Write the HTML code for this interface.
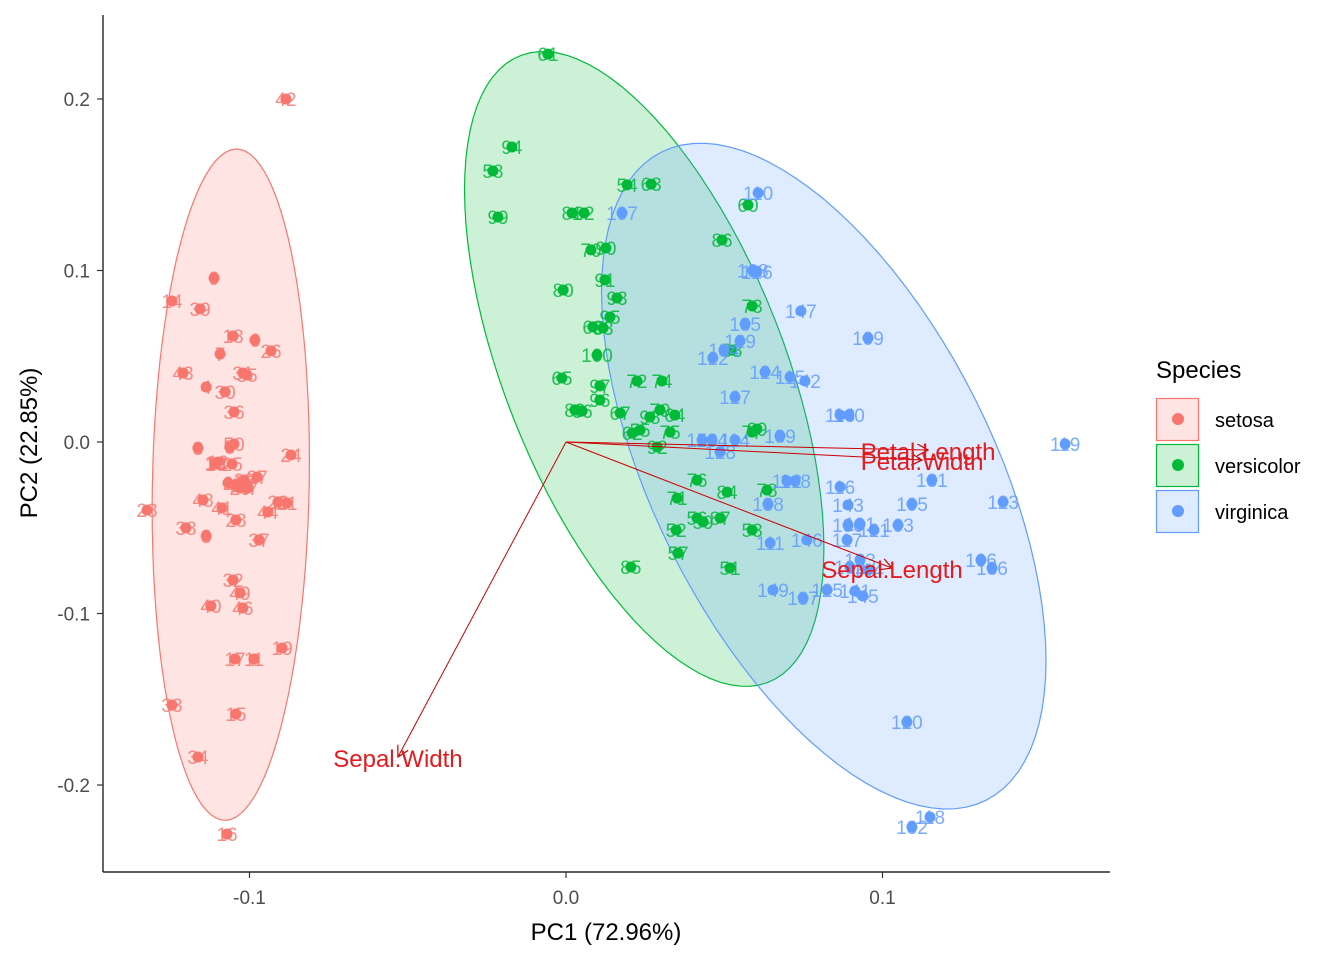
<!DOCTYPE html>
<html><head><meta charset="utf-8"><style>
body{margin:0;background:#fff;}
svg text{font-family:"Liberation Sans",Arial,sans-serif;}
</style></head><body>
<svg id="chart" width="1344" height="960" viewBox="0 0 1344 960" xmlns="http://www.w3.org/2000/svg">
<defs>
<marker id="ah" viewBox="0 0 12 12" refX="11" refY="6" markerWidth="12" markerHeight="12" markerUnits="userSpaceOnUse" orient="auto">
<polyline points="0,0 11,6 0,12" fill="none" stroke="#CC0000" stroke-width="1.2"/>
</marker>
</defs>
<g id="ellipses"></g><g id="pts"></g><g id="arrows"></g>
<line x1="103" y1="15" x2="103" y2="872" stroke="#000" stroke-width="1.2"/>
<line x1="103" y1="872" x2="1110" y2="872" stroke="#000" stroke-width="1.2"/>
<g id="axes"></g>
<text x="606" y="940" font-size="24" text-anchor="middle">PC1 (72.96%)</text>
<text transform="translate(37,443) rotate(-90)" font-size="24" text-anchor="middle">PC2 (22.85%)</text>
<g>
<text x="1156" y="378" font-size="24">Species</text>
<g id="legend"></g>
</g>
</svg>
<script>
const setosa=[[-0.0885,0.200,42],[-0.1112,0.0956,9],[-0.1245,0.0822,14],[-0.1156,0.0776,39],[-0.1210,0.0402,43],[-0.1052,0.0618,18],[-0.0983,0.0595,6],[-0.0932,0.0531,26],[-0.1093,0.0513,7],[-0.1137,0.0321,4],[-0.1077,0.0292,30],[-0.1021,0.0402,31],[-0.1008,0.0391,35],[-0.1049,0.0175,36],[-0.1049,-0.0012,50],[-0.0869,-0.0076,24],[-0.1163,-0.0035,8],[-0.1100,-0.0117,12],[-0.1055,-0.0128,25],[-0.0976,-0.0204,27],[-0.1030,-0.0268,20],[-0.1324,-0.0397,23],[-0.0882,-0.0356,21],[-0.0910,-0.0350,22],[-0.0942,-0.0408,44],[-0.1087,-0.0385,41],[-0.1043,-0.0455,28],[-0.1201,-0.0501,38],[-0.1137,-0.0548,3],[-0.0970,-0.0571,37],[-0.1052,-0.0805,32],[-0.1030,-0.0880,49],[-0.1122,-0.0956,40],[-0.1021,-0.0968,46],[-0.0897,-0.1201,19],[-0.1046,-0.1265,17],[-0.0986,-0.1265,11],[-0.1245,-0.1534,33],[-0.1043,-0.1586,15],[-0.1163,-0.1837,34],[-0.1071,-0.2286,16],[-0.1046,-0.0251,1],[-0.1062,-0.0029,5],[-0.1109,-0.0122,10],[-0.1106,-0.0128,13],[-0.1068,-0.0239,2],[-0.1024,-0.0233,45],[-0.1005,-0.0268,47],[-0.1147,-0.0338,48],[-0.1017,-0.0222,29]];
const versicolor=[[-0.0057,0.2262,61],[-0.0171,0.1720,94],[-0.0231,0.1580,58],[-0.0215,0.1312,99],[0.0193,0.1499,54],[0.0269,0.1504,63],[0.0019,0.1335,81],[0.0057,0.1335,82],[0.0079,0.1120,70],[0.0126,0.1131,90],[0.0123,0.0945,91],[-0.0009,0.0886,80],[0.0161,0.0840,93],[0.0085,0.0671,68],[0.0117,0.0665,83],[0.0139,0.0729,95],[0.0098,0.0507,100],[-0.0013,0.0373,65],[0.0107,0.0327,97],[0.0224,0.0356,72],[0.0303,0.0356,74],[0.0028,0.0187,89],[0.0107,0.0245,96],[0.0171,0.0169,67],[0.0234,0.0070,55],[0.0209,0.0052,62],[0.0297,0.0187,79],[0.0344,0.0157,64],[0.0288,-0.0029,92],[0.0329,0.0058,75],[0.0265,0.0146,98],[0.0051,0.0181,66],[0.0603,0.0076,69],[0.0414,-0.0222,76],[0.0351,-0.0327,71],[0.0354,-0.0647,57],[0.0348,-0.0513,52],[0.0509,-0.0292,84],[0.0414,-0.0443,56],[0.0487,-0.0443,87],[0.0588,-0.0513,53],[0.0518,-0.0735,51],[0.0205,-0.0729,85],[0.0493,0.1178,86],[0.0588,0.0793,73],[0.0588,0.0058,77],[0.0635,-0.0280,78],[0.0433,-0.0466,59],[0.0575,0.1382,60],[0.0524,0.0536,88]];
const virginica=[[0.0607,0.1452,110],[0.0177,0.1335,107],[0.0603,0.0991,126],[0.0742,0.0764,147],[0.0954,0.0606,109],[0.0566,0.0688,135],[0.0550,0.0589,129],[0.0464,0.0490,122],[0.0499,0.0536,134],[0.0629,0.0408,124],[0.0755,0.0356,142],[0.0708,0.0379,115],[0.0534,0.0262,127],[0.0866,0.0157,113],[0.0894,0.0157,140],[0.0461,0.0012,104],[0.0430,0.0012,150],[0.0487,-0.0058,128],[0.0676,0.0035,139],[0.1577,-0.0012,119],[0.1156,-0.0222,131],[0.0866,-0.0262,116],[0.0724,-0.0227,148],[0.0698,-0.0227,112],[0.0638,-0.0362,138],[0.0891,-0.0367,143],[0.1093,-0.0362,105],[0.1381,-0.0350,123],[0.0929,-0.0478,101],[0.1049,-0.0484,103],[0.0891,-0.0484,130],[0.0645,-0.0589,111],[0.0761,-0.0571,146],[0.0888,-0.0571,117],[0.0973,-0.0513,121],[0.1311,-0.0688,106],[0.1346,-0.0735,136],[0.0897,-0.0729,102],[0.0954,-0.0746,144],[0.0654,-0.0863,149],[0.0749,-0.0910,137],[0.0825,-0.0863,125],[0.0938,-0.0898,145],[0.0913,-0.0869,141],[0.0929,-0.0688,133],[0.0534,0.0012,114],[0.1093,-0.2245,132],[0.1150,-0.2187,118],[0.1077,-0.1633,120],[0.0590,0.1000,108]];
const varNames=["Petal.Length","Petal.Width","Sepal.Length","Sepal.Width"];
const varX=[0.1144,0.1125,0.1030,-0.0531];
const varY=[-0.0047,-0.0105,-0.0735,-0.1837];
const xTicks=[-0.1,0.0,0.1];
const xTickLabels=["-0.1","0.0","0.1"];
const yTicks=[0.2,0.1,0.0,-0.1,-0.2];
const yTickLabels=["0.2","0.1","0.0","-0.1","-0.2"];
const speciesNames=["setosa","versicolor","virginica"];
const speciesColors=["#F8766D","#00BA38","#619CFF"];

const NS="http://www.w3.org/2000/svg";
const sx=x=>566+x*3165, sy=y=>442-y*1715;
function mk(tag,attrs,parent,txt){const e=document.createElementNS(NS,tag);for(const k in attrs)e.setAttribute(k,attrs[k]);if(txt!==undefined)e.textContent=txt;parent.appendChild(e);return e;}
const axes=document.getElementById('axes');
xTicks.forEach((t,i)=>{
  const l=mk('line',{x1:sx(t),x2:sx(t),y1:872,y2:878,stroke:'#333','stroke-width':1.2},axes);
  
  
  const tx=mk('text',{x:sx(t),y:904,'font-size':19,'text-anchor':'middle',fill:'#4D4D4D'},axes,xTickLabels[i]);
  
  
});
yTicks.forEach((t,i)=>{
  const l=mk('line',{x1:97,x2:103,y1:sy(t),y2:sy(t),stroke:'#333','stroke-width':1.2},axes);
  
  
  const tx=mk('text',{x:90,y:sy(t)+7,'font-size':19,'text-anchor':'end',fill:'#4D4D4D'},axes,yTickLabels[i]);
  
  
});
const groups=[setosa,versicolor,virginica];
const eg=document.getElementById('ellipses'), pg=document.getElementById('pts');
const r=2.55;
groups.forEach((g,gi)=>{
  const P=g.map(d=>[sx(d[0]),sy(d[1])]);
  const n=P.length;
  const mx=P.reduce((a,p)=>a+p[0],0)/n, my=P.reduce((a,p)=>a+p[1],0)/n;
  let sxx=0,syy=0,sxy=0;
  P.forEach(p=>{sxx+=(p[0]-mx)**2;syy+=(p[1]-my)**2;sxy+=(p[0]-mx)*(p[1]-my);});
  sxx/=n-1;syy/=n-1;sxy/=n-1;
  const a=Math.sqrt(sxx), b=sxy/a, c=Math.sqrt(Math.max(syy-b*b,0));
  let d='';
  for(let k=0;k<=100;k++){const t=k/100*2*Math.PI;const u=Math.cos(t)*r,v=Math.sin(t)*r;
    d+=(k?'L':'M')+(mx+a*u).toFixed(1)+','+(my+b*u+c*v).toFixed(1);}
  const e=mk('path',{d:d+'Z',fill:speciesColors[gi],'fill-opacity':0.2,stroke:speciesColors[gi],'stroke-width':1.2},eg);
  
  
  g.forEach(p=>{
    const ci=mk('circle',{cx:sx(p[0]),cy:sy(p[1]),r:5.5,fill:speciesColors[gi]},pg);
    
    
    const tx=mk('text',{x:sx(p[0]),y:sy(p[1])+7,'font-size':19,'text-anchor':'middle',fill:speciesColors[gi],'fill-opacity':0.85},pg,String(p[2]));
    
    
  });
});
const ag=document.getElementById('arrows');
varNames.forEach((nm,i)=>{
  const l=mk('line',{x1:sx(0),y1:sy(0),x2:sx(varX[i]),y2:sy(varY[i]),stroke:'#CC0000','stroke-width':1,'marker-end':'url(#ah)'},ag);
  
  
  const tx=mk('text',{x:sx(varX[i]),y:sy(varY[i])+10,'font-size':24,'text-anchor':'middle',fill:'#E41A1C'},ag,nm);
  
  
});
const lg=document.getElementById('legend');
speciesNames.forEach((nm,i)=>{
  const y0=398+i*46;
  const bx=mk('rect',{x:1156.5,y:y0+0.5,width:42,height:42,fill:speciesColors[i],'fill-opacity':0.2,stroke:speciesColors[i],'stroke-width':1.2},lg);
  
  
  const ci=mk('circle',{cx:1178,cy:y0+21,r:6,fill:speciesColors[i]},lg);
  
  
  const tx=mk('text',{x:1215,y:y0+29,'font-size':20},lg,nm);
  
  
});
</script>
</body></html>
